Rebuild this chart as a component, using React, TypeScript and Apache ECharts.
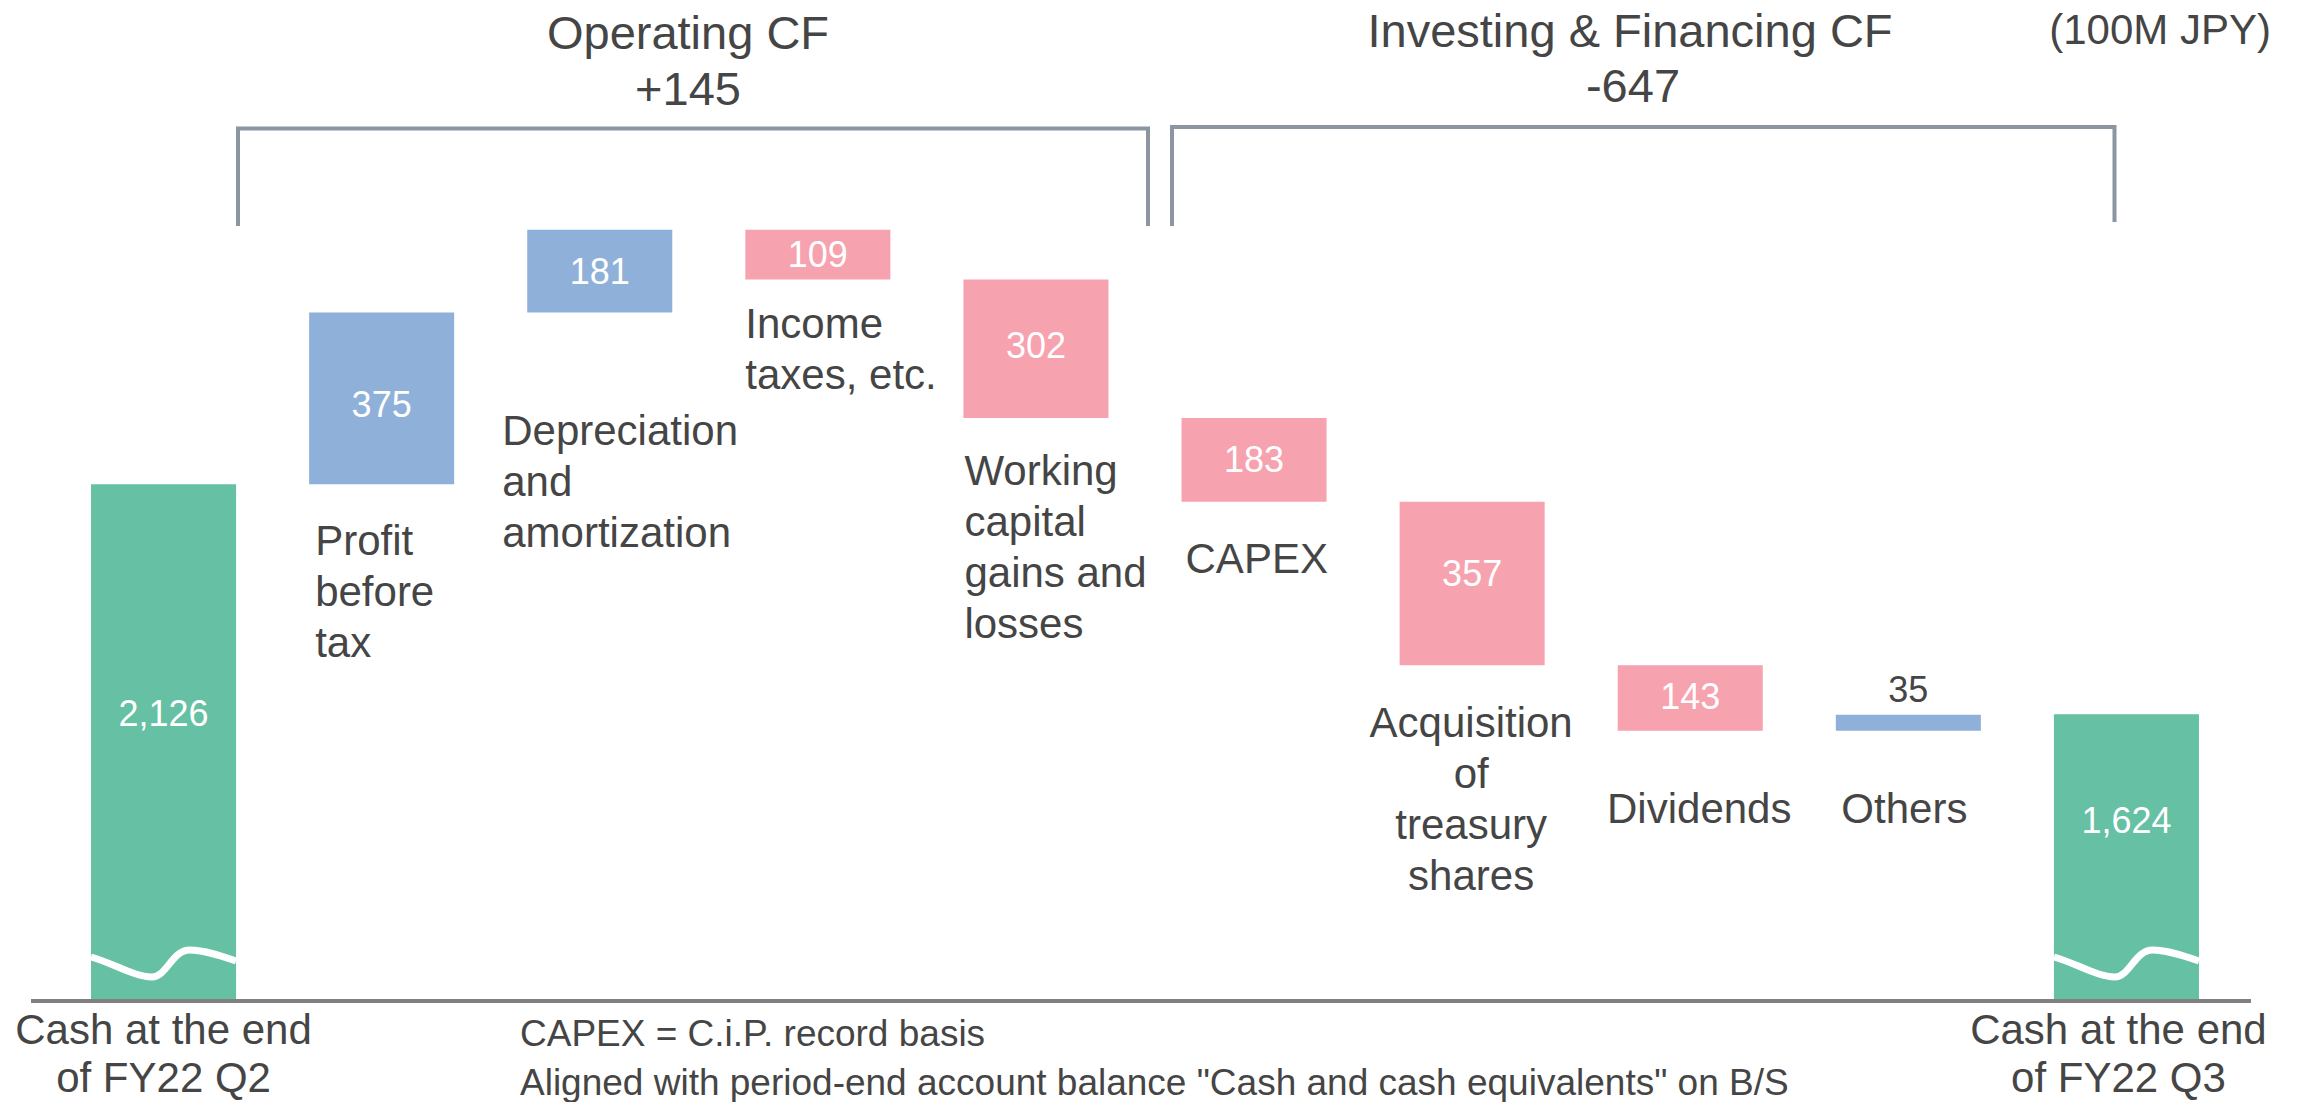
import React, { useEffect, useRef } from 'react';
import * as echarts from 'echarts';

// ---------- data ----------
const categories = [
  'Cash at the end\nof FY22 Q2',
  'Profit\nbefore\ntax',
  'Depreciation\nand\namortization',
  'Income\ntaxes, etc.',
  'Working\ncapital\ngains and\nlosses',
  'CAPEX',
  'Acquisition\nof\ntreasury\nshares',
  'Dividends',
  'Others',
  'Cash at the end\nof FY22 Q3',
];
const values = [2126, 375, 181, -109, -302, -183, -357, -143, 35, 1624];
const groupTitles = ['Operating CF', 'Investing & Financing CF'];
const groupTotals = ['+145', '-647'];
const unitLabel = '(100M JPY)';
const footnotes = [
  'CAPEX = C.i.P. record basis',
  'Aligned with period-end account balance "Cash and cash equivalents" on B/S',
];

// ---------- layout / style ----------
const AXIS_MIN = 1000;
const AXIS_MAX = 3000;
const BAR_RATIO = 0.665;
const GREEN = '#66C0A3';
const BLUE = '#8FB0D8';
const PINK = '#F7A2AF';
const TEXT = '#454545';
const BRACKET = '#8B96A1';
const FONT = '"Liberation Sans", Arial, Helvetica, sans-serif';
// category label placement: [align, dx, dy, verticalAlign]
// (dx from bar left for 'left', from bar centre for 'center'; dy from bar bottom)
const catLabelPos: [string, number, number, string][] = [
  ['center', 0, 101, 'bottom'],
  ['left', 6, 31, 'top'],
  ['left', -25, 92, 'top'],
  ['left', 0, 18, 'top'],
  ['left', 1, 27, 'top'],
  ['left', 4, 31, 'top'],
  ['center', -1, 32, 'top'],
  ['center', 9, 52, 'top'],
  ['center', -4, 52, 'top'],
  ['center', -8, 101, 'bottom'],
];
// value label offset from bar centre; null = above the bar
const valueLabelDy: (number | null)[] = [-29, 6, 0, 0, -3, 0, -10, -1, null, -37];

// waterfall rows: [index, low, high, value, isTotal]
const wfData: number[][] = [];
{
  let running = 0;
  values.forEach((v, i) => {
    const isTotal = i === 0 || i === values.length - 1;
    if (isTotal) {
      wfData.push([i, AXIS_MIN, v, v, 1]);
      running = v;
    } else {
      const next = running + v;
      wfData.push([i, Math.min(running, next), Math.max(running, next), v, 0]);
      running = next;
    }
  });
}

export default function App() {
  const ref = useRef<HTMLDivElement>(null);
  useEffect(() => {
    if (!ref.current) return;
    const chart = echarts.init(ref.current, undefined, { renderer: 'svg' });
    const option: any = {
      animation: false,
      grid: { left: 54.5, right: 61.5, top: 84, bottom: 102 },
      xAxis: {
        type: 'category',
        data: categories,
        show: false,
      },
      yAxis: {
        type: 'value',
        min: AXIS_MIN,
        max: AXIS_MAX,
        show: false,
        splitLine: { show: false },
      },
      series: [
        {
          type: 'custom',
          data: wfData,
          encode: { x: 0, y: [1, 2] },
          renderItem: (params: any, api: any) => {
            const i = api.value(0) as number;
            const low = api.value(1) as number;
            const high = api.value(2) as number;
            const v = api.value(3) as number;
            const isTotal = api.value(4) === 1;
            const pTop = api.coord([i, high]);
            const pBot = api.coord([i, low]);
            const band = api.size([1, 0])[0];
            const w = band * BAR_RATIO;
            const cx = pTop[0];
            const x0 = cx - w / 2;
            const yT = pTop[1];
            const yB = pBot[1];
            const color = isTotal ? GREEN : v >= 0 ? BLUE : PINK;
            const children: any[] = [
              {
                type: 'rect',
                shape: { x: x0, y: yT, width: w, height: yB - yT },
                style: { fill: color },
              },
            ];
            if (isTotal) {
              const p = (fx: number, dy: number) => `${(x0 + fx * w).toFixed(1)},${(yB + dy).toFixed(1)}`;
              const d =
                `M${p(0, -43)} C${p(0.15, -37)} ${p(0.3, -23)} ${p(0.42, -23)} ` +
                `C${p(0.52, -23)} ${p(0.56, -50)} ${p(0.68, -50)} ` +
                `C${p(0.78, -50)} ${p(0.9, -44)} ${p(1, -39)}`;
              children.push({
                type: 'path',
                shape: { pathData: d },
                style: { fill: null, stroke: '#ffffff', lineWidth: 7 },
              });
            }
            const dy = valueLabelDy[i];
            const valText = Math.abs(v).toLocaleString('en-US');
            if (dy === null) {
              children.push({
                type: 'text',
                x: cx,
                y: yT - 25,
                style: {
                  text: valText,
                  fill: TEXT,
                  fontSize: 36,
                  fontFamily: FONT,
                  align: 'center',
                  verticalAlign: 'middle',
                },
              });
            } else {
              children.push({
                type: 'text',
                x: cx,
                y: (yT + yB) / 2 + dy,
                style: {
                  text: valText,
                  fill: '#ffffff',
                  fontSize: 36,
                  fontFamily: FONT,
                  align: 'center',
                  verticalAlign: 'middle',
                },
              });
            }
            const [align, ldx, ldy, valign] = catLabelPos[i];
            children.push({
              type: 'text',
              x: (align === 'left' ? x0 : cx) + ldx,
              y: yB + ldy,
              style: {
                text: categories[i],
                fill: TEXT,
                fontSize: 42,
                fontFamily: FONT,
                lineHeight: valign === 'bottom' ? 48 : 51,
                align: align,
                verticalAlign: valign,
              },
            });
            return { type: 'group', children };
          },
          z: 2,
        },
      ],
      graphic: [
        {
          type: 'line',
          z: 10,
          shape: { x1: 31, y1: 1001, x2: 2251, y2: 1001 },
          style: { stroke: '#808080', lineWidth: 4 },
        },
        {
          type: 'polyline',
          shape: { points: [[238, 226], [238, 128.5], [1148, 128.5], [1148, 226]] },
          style: { stroke: BRACKET, lineWidth: 4, fill: null },
        },
        {
          type: 'polyline',
          shape: { points: [[1172, 226], [1172, 127], [2114.5, 127], [2114.5, 222]] },
          style: { stroke: BRACKET, lineWidth: 4, fill: null },
        },
        {
          type: 'text',
          x: 688,
          y: 32,
          style: { text: groupTitles[0], fill: TEXT, fontSize: 47, fontFamily: FONT, align: 'center', verticalAlign: 'middle' },
        },
        {
          type: 'text',
          x: 688,
          y: 88,
          style: { text: groupTotals[0], fill: TEXT, fontSize: 47, fontFamily: FONT, align: 'center', verticalAlign: 'middle' },
        },
        {
          type: 'text',
          x: 1630,
          y: 30,
          style: { text: groupTitles[1], fill: TEXT, fontSize: 47, fontFamily: FONT, align: 'center', verticalAlign: 'middle' },
        },
        {
          type: 'text',
          x: 1633,
          y: 85,
          style: { text: groupTotals[1], fill: TEXT, fontSize: 47, fontFamily: FONT, align: 'center', verticalAlign: 'middle' },
        },
        {
          type: 'text',
          x: 2271,
          y: 29,
          style: { text: unitLabel, fill: TEXT, fontSize: 42, fontFamily: FONT, align: 'right', verticalAlign: 'middle' },
        },
        {
          type: 'text',
          x: 520,
          y: 1033,
          style: { text: footnotes[0], fill: TEXT, fontSize: 37, fontFamily: FONT, align: 'left', verticalAlign: 'middle' },
        },
        {
          type: 'text',
          x: 520,
          y: 1082,
          style: { text: footnotes[1], fill: TEXT, fontSize: 37, fontFamily: FONT, align: 'left', verticalAlign: 'middle' },
        },
      ],
    };
    chart.setOption(option);
    return () => chart.dispose();
  }, []);
  return (
    <div
      ref={ref}
      style={{ position: 'fixed', left: 0, top: 0, width: 2297, height: 1102, background: '#ffffff' }}
    />
  );
}
